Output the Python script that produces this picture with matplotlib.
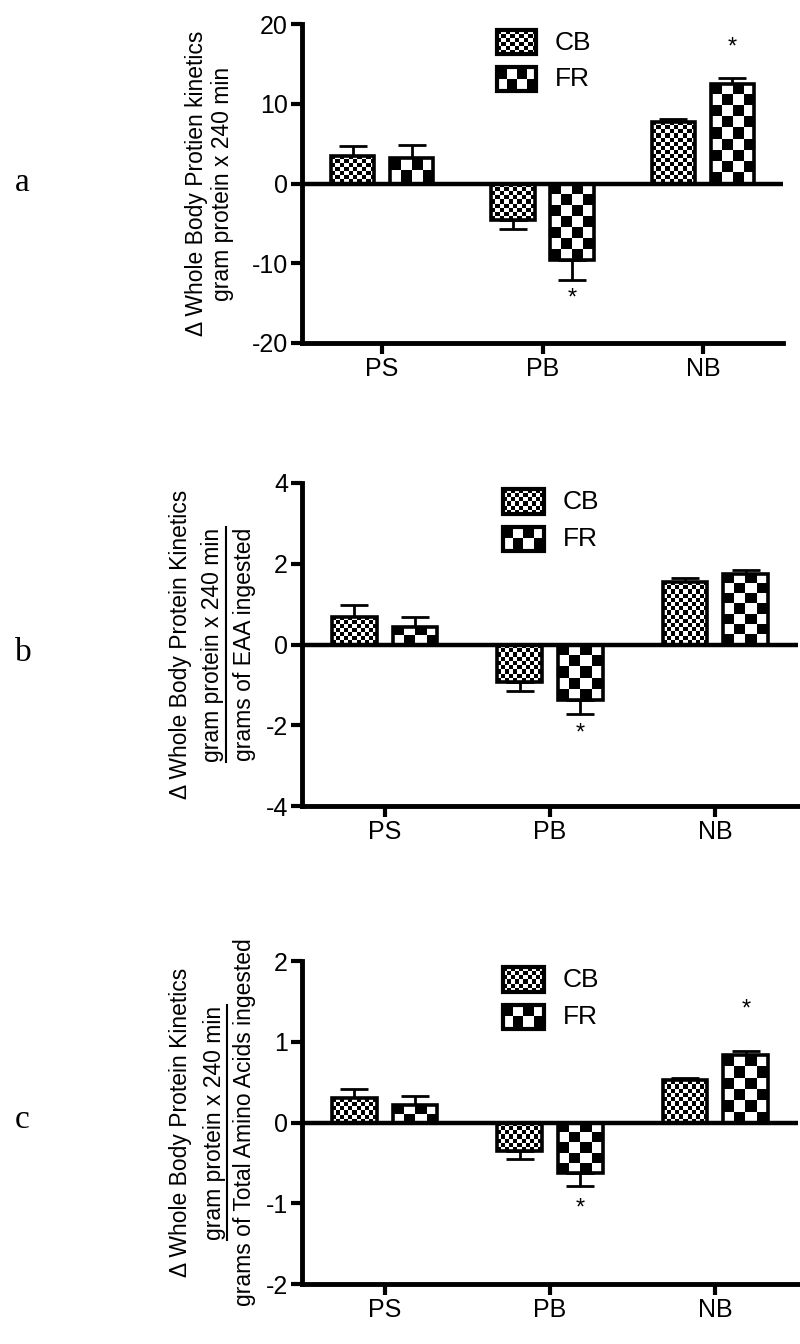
import numpy as np
import matplotlib
matplotlib.use("Agg")
import matplotlib.pyplot as plt
from matplotlib.patches import Rectangle
from matplotlib.lines import Line2D

plt.rcParams["font.family"] = ["Liberation Sans Narrow", "Liberation Sans", "DejaVu Sans"]

# data
categories = ["PS", "PB", "NB"]
series = ["CB", "FR"]

a_cb = [3.45, -4.6, 7.65]
a_cb_err = [1.25, 1.1, 0.5]
a_fr = [3.15, -9.65, 12.5]
a_fr_err = [1.65, 2.45, 0.75]

b_cb = [0.68, -0.92, 1.54]
b_cb_err = [0.29, 0.23, 0.11]
b_fr = [0.43, -1.37, 1.75]
b_fr_err = [0.24, 0.35, 0.10]

c_cb = [0.30, -0.355, 0.525]
c_cb_err = [0.11, 0.10, 0.025]
c_fr = [0.22, -0.625, 0.84]
c_fr_err = [0.11, 0.165, 0.045]

a_ticks = [-20, -10, 0, 10, 20]
b_ticks = [-4, -2, 0, 2, 4]
c_ticks = [-2, -1, 0, 1, 2]

# significance stars: (category index, y)
a_stars = [(1, -14.4), (2, 17.1)]
b_stars = [(1, -2.2)]
c_stars = [(1, -1.07), (2, 1.40)]

W, H = 800, 1344
fig = plt.figure(figsize=(W / 100, H / 100), dpi=100)


def checker(ax, x0, y0, w, h, cell, transform):
    fig.canvas.draw_idle()
    p0 = transform.transform((x0, y0))
    p1 = transform.transform((x0 + w, y0 + h))
    wpx, hpx = abs(p1[0] - p0[0]), abs(p1[1] - p0[1])
    nc = max(1, int(round(wpx / cell)))
    nr = max(1, int(round(hpx / cell)))
    arr = (np.add.outer(np.arange(nr), np.arange(nc)) % 2).astype(float)
    im = ax.imshow(arr, extent=(x0, x0 + w, y0, y0 + h), cmap="gray",
                   interpolation="nearest", aspect="auto", zorder=2,
                   transform=transform, vmin=0, vmax=1)
    return im


def panel(top_px, height_px, width_px, cb, cb_err, fr, fr_err, ticks, stars,
          letter, letter_y, label_lines, label_x, underline):
    ax = fig.add_axes([302 / W, 1 - (top_px + height_px) / H, width_px / W, height_px / H])
    x = np.arange(len(categories))
    off, bw = 0.184, 0.27
    ax.set_xlim(-0.5, 2.5)
    ax.set_ylim(ticks[0], ticks[-1])
    for vals, errs, dx, cell in [(cb, cb_err, -off, 4.2), (fr, fr_err, off, 10.5)]:
        vals = np.array(vals)
        errs = np.array(errs)
        lo = np.where(vals < 0, errs, 0)
        hi = np.where(vals >= 0, errs, 0)
        ax.errorbar(x + dx, vals, yerr=[lo, hi], fmt="none", ecolor="black",
                    elinewidth=2, capsize=10, capthick=2, zorder=1)
        bars = ax.bar(x + dx, vals, bw, fill=False, edgecolor="black", linewidth=2.6, zorder=3)
        for b in bars:
            y0 = min(b.get_y(), b.get_y() + b.get_height())
            checker(ax, b.get_x(), y0, b.get_width(), abs(b.get_height()), cell, ax.transData)
    ax.axhline(0, color="black", lw=3.2, zorder=4)
    for ci, sy in stars:
        ax.text(x[ci] + off, sy, "*", ha="center", va="center", fontsize=17)
    # legend
    for i, (name, cell) in enumerate(zip(series, [4.2, 10.5])):
        yb = 0.905 - i * 0.115
        checker(ax, 0.405, yb, 0.082, 0.075, cell, ax.transAxes)
        ax.add_patch(Rectangle((0.405, yb), 0.082, 0.075, transform=ax.transAxes,
                               fill=False, edgecolor="black", lw=3, zorder=3))
        ax.text(0.525, yb + 0.037, name, transform=ax.transAxes, va="center",
                ha="left", fontsize=19)
    ax.set_xticks(x)
    ax.set_xticklabels(categories, fontsize=18)
    ax.set_yticks(ticks)
    ax.set_yticklabels([str(t) for t in ticks], fontsize=18)
    ax.tick_params(width=3, length=8, pad=2)
    for s in ["top", "right"]:
        ax.spines[s].set_visible(False)
    for s in ["left", "bottom"]:
        ax.spines[s].set_linewidth(3.5)
    # panel letter
    fig.text(15 / W, 1 - letter_y / H, letter, fontsize=24, family="Liberation Serif",
             ha="left", va="center")
    cy = 1 - (top_px + height_px / 2) / H
    texts = []
    for line, lx in zip(label_lines, label_x):
        t = fig.text(lx / W, cy, line, rotation=90, ha="center", va="center", fontsize=16.5,
                     family="Liberation Sans")
        texts.append(t)
    if underline:
        fig.canvas.draw()
        bb = texts[1].get_window_extent()
        xl = bb.x1 + 1
        fig.add_artist(Line2D([xl / W, xl / W], [bb.y0 / H, bb.y1 / H], color="black", lw=1.5))
    return ax


panel(24, 319, 481, a_cb, a_cb_err, a_fr, a_fr_err, a_ticks, a_stars, "a", 183,
      ["\u0394 Whole Body Protien kinetics", "gram protein x 240 min"], [196, 222], False)
panel(483, 323, 496, b_cb, b_cb_err, b_fr, b_fr_err, b_ticks, b_stars, "b", 653,
      ["\u0394 Whole Body Protein Kinetics", "gram protein x 240 min", "grams of EAA ingested"],
      [181, 213, 245], True)
panel(961, 323, 496, c_cb, c_cb_err, c_fr, c_fr_err, c_ticks, c_stars, "c", 1120,
      ["\u0394 Whole Body Protein Kinetics", "gram protein x 240 min",
       "grams of Total Amino Acids ingested"], [181, 214, 245], True)

fig.savefig("out.png", dpi=100)
